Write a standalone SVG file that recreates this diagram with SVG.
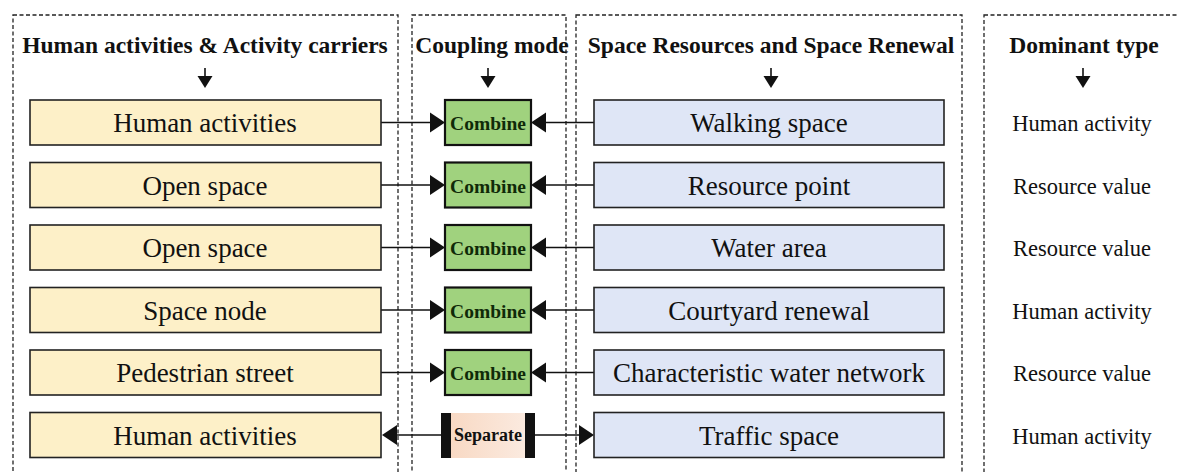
<svg xmlns="http://www.w3.org/2000/svg" width="1177" height="472" viewBox="0 0 1177 472">
  <defs>
    <style>
      .frame { fill: none; stroke: #222; stroke-width: 1.3; stroke-dasharray: 4 2.5; }
      .head { font-family: "Liberation Serif", "Times New Roman", serif; font-weight: bold; font-size: 23.5px; fill: #111; text-anchor: middle; }
      .label { font-family: "Liberation Serif", "Times New Roman", serif; font-size: 27px; fill: #111; text-anchor: middle; }
      .dom { font-family: "Liberation Serif", "Times New Roman", serif; font-size: 22.5px; fill: #111; text-anchor: middle; }
      .mode { font-family: "Liberation Serif", "Times New Roman", serif; font-weight: bold; font-size: 19.5px; fill: #102a08; text-anchor: middle; }
      .sep { font-family: "Liberation Serif", "Times New Roman", serif; font-weight: bold; font-size: 18px; fill: #111; text-anchor: middle; }
      .act { fill: #fdf0c8; stroke: #222; stroke-width: 1.6; }
      .res { fill: #dfe6f6; stroke: #222; stroke-width: 1.6; }
      .comb { fill: #a0d27e; stroke: #111; stroke-width: 2.2; }
      .wire { stroke: #111; stroke-width: 1.4; fill: none; }
      .tip { fill: #111; }
      .down { stroke: #111; stroke-width: 1.6; fill: none; }
    </style>
    <linearGradient id="peach" x1="0" y1="0" x2="1" y2="0">
      <stop offset="0" stop-color="#f8d9c4"/>
      <stop offset="1" stop-color="#fbeadf"/>
    </linearGradient>
  </defs>
  <rect width="1177" height="472" fill="#ffffff"/>

  <!-- column frames -->
  <g id="frames">
    <rect class="frame" x="13" y="15" width="385" height="480"/>
    <rect class="frame" x="412" y="15" width="154" height="480"/>
    <rect class="frame" x="576" y="15" width="386" height="480"/>
    <rect class="frame" x="984" y="15" width="220" height="480"/>
  </g>

  <!-- column headings -->
  <g id="headings">
    <text class="head" x="205" y="53">Human activities &amp; Activity carriers</text>
    <text class="head" x="492" y="53">Coupling mode</text>
    <text class="head" x="771" y="53">Space Resources and Space Renewal</text>
    <text class="head" x="1084" y="53">Dominant type</text>
    <line class="down" x1="205" y1="68" x2="205" y2="78"/>
    <path class="tip" d="M197.5,76 L212.5,76 L205,88 Z"/>
    <line class="down" x1="488" y1="68" x2="488" y2="78"/>
    <path class="tip" d="M480.5,76 L495.5,76 L488,88 Z"/>
    <line class="down" x1="771" y1="68" x2="771" y2="78"/>
    <path class="tip" d="M763.5,76 L778.5,76 L771,88 Z"/>
    <line class="down" x1="1083" y1="68" x2="1083" y2="78"/>
    <path class="tip" d="M1075.5,76 L1090.5,76 L1083,88 Z"/>
  </g>

  <!-- connectors -->
  <g id="connectors">
    <!-- row 1 -->
    <line class="wire" x1="381" y1="122.5" x2="431" y2="122.5"/>
    <path class="tip" d="M430,112.5 L445,122.5 L430,132.5 Z"/>
    <line class="wire" x1="545" y1="122.5" x2="594" y2="122.5"/>
    <path class="tip" d="M546,112.5 L531,122.5 L546,132.5 Z"/>
    <!-- row 2 -->
    <line class="wire" x1="381" y1="185" x2="431" y2="185"/>
    <path class="tip" d="M430,175 L445,185 L430,195 Z"/>
    <line class="wire" x1="545" y1="185" x2="594" y2="185"/>
    <path class="tip" d="M546,175 L531,185 L546,195 Z"/>
    <!-- row 3 -->
    <line class="wire" x1="381" y1="247.5" x2="431" y2="247.5"/>
    <path class="tip" d="M430,237.5 L445,247.5 L430,257.5 Z"/>
    <line class="wire" x1="545" y1="247.5" x2="594" y2="247.5"/>
    <path class="tip" d="M546,237.5 L531,247.5 L546,257.5 Z"/>
    <!-- row 4 -->
    <line class="wire" x1="381" y1="310" x2="431" y2="310"/>
    <path class="tip" d="M430,300 L445,310 L430,320 Z"/>
    <line class="wire" x1="545" y1="310" x2="594" y2="310"/>
    <path class="tip" d="M546,300 L531,310 L546,320 Z"/>
    <!-- row 5 -->
    <line class="wire" x1="381" y1="372.5" x2="431" y2="372.5"/>
    <path class="tip" d="M430,362.5 L445,372.5 L430,382.5 Z"/>
    <line class="wire" x1="545" y1="372.5" x2="594" y2="372.5"/>
    <path class="tip" d="M546,362.5 L531,372.5 L546,382.5 Z"/>
    <!-- row 6: separate, arrows point outward -->
    <line class="wire" x1="395" y1="435" x2="441" y2="435"/>
    <path class="tip" d="M397,425 L382,435 L397,445 Z"/>
    <line class="wire" x1="535" y1="435" x2="580" y2="435"/>
    <path class="tip" d="M579,425 L594,435 L579,445 Z"/>
  </g>

  <!-- activity carriers -->
  <g id="act1"><rect class="act" x="30" y="100" width="351" height="45"/><text class="label" x="205" y="132">Human activities</text></g>
  <g id="act2"><rect class="act" x="30" y="162.5" width="351" height="45"/><text class="label" x="205" y="194.5">Open space</text></g>
  <g id="act3"><rect class="act" x="30" y="225" width="351" height="45"/><text class="label" x="205" y="257">Open space</text></g>
  <g id="act4"><rect class="act" x="30" y="287.5" width="351" height="45"/><text class="label" x="205" y="319.5">Space node</text></g>
  <g id="act5"><rect class="act" x="30" y="350" width="351" height="45"/><text class="label" x="205" y="382">Pedestrian street</text></g>
  <g id="act6"><rect class="act" x="30" y="412.5" width="351" height="45"/><text class="label" x="205" y="444.5">Human activities</text></g>

  <!-- coupling modes -->
  <g id="mode1"><rect class="comb" x="445" y="100" width="86" height="45"/><text class="mode" x="488" y="130">Combine</text></g>
  <g id="mode2"><rect class="comb" x="445" y="162.5" width="86" height="45"/><text class="mode" x="488" y="192.5">Combine</text></g>
  <g id="mode3"><rect class="comb" x="445" y="225" width="86" height="45"/><text class="mode" x="488" y="255">Combine</text></g>
  <g id="mode4"><rect class="comb" x="445" y="287.5" width="86" height="45"/><text class="mode" x="488" y="317.5">Combine</text></g>
  <g id="mode5"><rect class="comb" x="445" y="350" width="86" height="45"/><text class="mode" x="488" y="380">Combine</text></g>
  <g id="mode6">
    <rect x="451" y="413" width="74" height="45" fill="url(#peach)"/>
    <rect x="441" y="413" width="10" height="45" fill="#111"/>
    <rect x="525" y="413" width="10" height="45" fill="#111"/>
    <text class="sep" x="488" y="441">Separate</text>
  </g>

  <!-- space resources -->
  <g id="res1"><rect class="res" x="594" y="100" width="350" height="45"/><text class="label" x="769" y="132">Walking space</text></g>
  <g id="res2"><rect class="res" x="594" y="162.5" width="350" height="45"/><text class="label" x="769" y="194.5">Resource point</text></g>
  <g id="res3"><rect class="res" x="594" y="225" width="350" height="45"/><text class="label" x="769" y="257">Water area</text></g>
  <g id="res4"><rect class="res" x="594" y="287.5" width="350" height="45"/><text class="label" x="769" y="319.5">Courtyard renewal</text></g>
  <g id="res5"><rect class="res" x="594" y="350" width="350" height="45"/><text class="label" x="769" y="382">Characteristic water network</text></g>
  <g id="res6"><rect class="res" x="594" y="412.5" width="350" height="45"/><text class="label" x="769" y="444.5">Traffic space</text></g>

  <!-- dominant types -->
  <g id="dom1"><text class="dom" x="1082" y="131">Human activity</text></g>
  <g id="dom2"><text class="dom" x="1082" y="193.5">Resource value</text></g>
  <g id="dom3"><text class="dom" x="1082" y="256">Resource value</text></g>
  <g id="dom4"><text class="dom" x="1082" y="318.5">Human activity</text></g>
  <g id="dom5"><text class="dom" x="1082" y="381">Resource value</text></g>
  <g id="dom6"><text class="dom" x="1082" y="443.5">Human activity</text></g>
</svg>
